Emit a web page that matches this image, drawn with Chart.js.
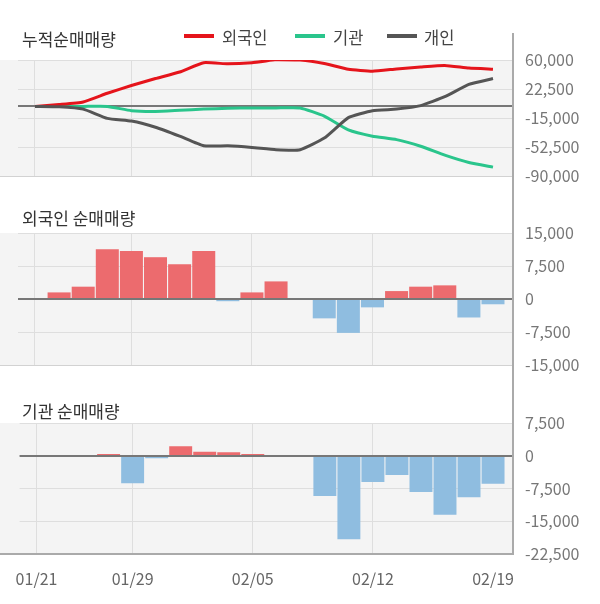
<!DOCTYPE html>
<html>
<head>
<meta charset="utf-8">
<script src="https://cdn.jsdelivr.net/npm/chart.js@4/dist/chart.umd.min.js"></script>
<style>
  html, body { margin: 0; padding: 0; background: #fff; }
  #wrap { position: relative; width: 600px; height: 604px; overflow: hidden;
          font-family: 'Noto Sans CJK KR', 'Noto Sans', sans-serif; }
  #wrap canvas { position: absolute; left: 0; top: 0; }
  .title { position: absolute; left: 22px; font-size: 17px; line-height: 20px; color: #333; white-space: nowrap; }
  .lg-line { position: absolute; height: 4px; top: 34px; width: 30px; }
  .lg-text { position: absolute; top: 27px; font-size: 16.5px; line-height: 20px; color: #444; white-space: nowrap; }
  #vaxis { position: absolute; left: 512px; top: 33px; width: 2px; height: 522px; background: #aaa; }
</style>
</head>
<body>
<div id="wrap">
  <canvas id="chart-cum" width="600" height="604"></canvas>
  <canvas id="chart-foreign" width="600" height="604"></canvas>
  <canvas id="chart-inst" width="600" height="604"></canvas>
  <div id="vaxis"></div>

  <div class="title" style="top:29px;">누적순매매량</div>
  <div class="lg-line" style="left:184px;background:#e5141b;"></div>
  <div class="lg-text" style="left:222px;">외국인</div>
  <div class="lg-line" style="left:295px;background:#2ac58c;"></div>
  <div class="lg-text" style="left:333px;">기관</div>
  <div class="lg-line" style="left:387px;background:#555;"></div>
  <div class="lg-text" style="left:424px;">개인</div>

  <div class="title" style="top:208px;">외국인 순매매량</div>
  <div class="title" style="top:401px;">기관 순매매량</div>
</div>

<script>
// ── Data ─────────────────────────────────────────────────────
const dates = ['01/21','01/22','01/23','01/28','01/29','01/30','01/31','02/03','02/04','02/05',
               '02/06','02/07','02/10','02/11','02/12','02/13','02/14','02/17','02/18','02/19'];
const gridIdx = [0, 4, 9, 14, 19];   // labelled dates

const foreignCum  = [0, 2500, 5800, 17000, 27000, 36000, 44500, 56500, 55000, 56500,
                     60500, 60000, 55500, 48000, 45500, 48500, 51000, 53000, 49500, 48000];
const instCum     = [0, 0, 0, 0, -5500, -6500, -5000, -3500, -2500, -2000,
                     -2000, -2000, -12500, -30500, -38500, -43000, -51500, -63000, -72500, -78500];
const personalCum = [0, -500, -3500, -15500, -19000, -27000, -38500, -51000, -51000, -53000,
                     -56000, -56000, -41000, -14500, -5500, -3500, 1000, 12500, 28500, 36000];

const foreignDaily = [0, 1500, 2800, 11300, 10900, 9500, 7900, 10900, -500, 1500,
                      4000, 0, -4400, -7700, -1900, 1800, 2800, 3100, -4200, -1200];
const instDaily    = [0, 0, 0, 400, -6300, -600, 2200, 900, 800, 400,
                      0, 0, -9200, -19100, -6000, -4400, -8300, -13500, -9500, -6400];

const cumTicks     = { min: -90000, max: 60000, step: 37500 };
const foreignTicks = { min: -15000, max: 15000, step: 7500 };
const instTicks    = { min: -22500, max: 7500,  step: 7500 };

// ── Style ────────────────────────────────────────────────────
const C = {
  red: '#e5141b', green: '#2ac58c', dark: '#555555',
  barPos: '#ec6b6e', barNeg: '#8fbde0',
  bg: '#f4f4f4', grid: '#dedede', zero: '#777', tick: '#777'
};
Chart.defaults.font.family = "'Noto Sans CJK KR', 'Noto Sans', sans-serif";
Chart.defaults.animation = false;

const X_MIN = -0.705, X_MAX = 19.83;

// grey panel + bottom rule + zero line
const panelPlugin = {
  id: 'panel',
  beforeDraw(chart, args, opts) {
    const { ctx, chartArea: a } = chart;
    ctx.save();
    ctx.fillStyle = C.bg;
    ctx.fillRect(0, a.top, a.right, a.bottom - a.top);
    ctx.restore();
  },
  beforeDatasetsDraw(chart, args, opts) {
    if (!opts.zeroOnTop) drawZero(chart);
  },
  afterDatasetsDraw(chart, args, opts) {
    if (opts.zeroOnTop) drawZero(chart);
    const { ctx, chartArea: a } = chart;
    ctx.save();
    ctx.strokeStyle = opts.bottomColor;
    ctx.lineWidth = opts.bottomWidth;
    const y = a.bottom + (opts.bottomWidth % 2 ? 0.5 : 0);
    ctx.beginPath(); ctx.moveTo(0, y); ctx.lineTo(a.right, y); ctx.stroke();
    ctx.restore();
  }
};
function drawZero(chart) {
  const { ctx, chartArea: a, scales } = chart;
  const y = Math.round(scales.y.getPixelForValue(0));
  ctx.save();
  ctx.strokeStyle = C.zero;
  ctx.lineWidth = 2;
  ctx.beginPath(); ctx.moveTo(a.left, y); ctx.lineTo(a.right, y); ctx.stroke();
  ctx.restore();
}

function xScale(showLabels) {
  return {
    type: 'linear', min: X_MIN, max: X_MAX, offset: false,
    afterBuildTicks: (axis) => { axis.ticks = gridIdx.map(v => ({ value: v })); },
    afterFit: (axis) => { axis.height = showLabels ? 50 : 0; },
    grid: {
      offset: false, drawTicks: false,
      color: (c) => (c.tick && c.tick.value === 19) ? 'rgba(0,0,0,0)' : C.grid
    },
    border: { display: false },
    ticks: {
      display: showLabels, padding: 15, color: '#666', autoSkip: false, maxRotation: 0,
      font: { size: 16 },
      callback: (v) => dates[v]
    }
  };
}
function yScale(t) {
  return {
    position: 'right', min: t.min, max: t.max,
    afterFit: (axis) => { axis.width = 87; },
    afterBuildTicks: (axis) => {
      const out = [];
      for (let v = t.min; v <= t.max; v += t.step) out.push({ value: v });
      axis.ticks = out;
    },
    grid: { drawTicks: false, color: C.grid },
    border: { display: false },
    ticks: {
      padding: 12, color: C.tick, font: { size: 16 },
      callback: (v) => v.toLocaleString('en-US')
    }
  };
}
const pts = (arr) => arr.map((v, i) => ({ x: i, y: v }));

// ── 1. Cumulative lines ──────────────────────────────────────
new Chart(document.getElementById('chart-cum'), {
  type: 'line',
  data: {
    datasets: [
      { label: '개인',   data: pts(personalCum), borderColor: C.dark },
      { label: '외국인', data: pts(foreignCum),  borderColor: C.red },
      { label: '기관',   data: pts(instCum),     borderColor: C.green }
    ].map(d => Object.assign(d, { borderWidth: 3, pointRadius: 0, tension: 0.15, fill: false }))
  },
  options: {
    responsive: false,
    layout: { padding: { top: 60, bottom: 428, left: 18, right: 0 } },
    plugins: {
      legend: { display: false }, tooltip: { enabled: false },
      panel: { zeroOnTop: false, bottomColor: '#d2d2d2', bottomWidth: 1 }
    },
    scales: { x: xScale(false), y: yScale(cumTicks) }
  },
  plugins: [panelPlugin]
});

// ── 2. Foreign daily bars ────────────────────────────────────
function barChart(id, values, ticks, pad, showLabels, bottom) {
  return new Chart(document.getElementById(id), {
    type: 'bar',
    data: {
      datasets: [{
        data: pts(values),
        backgroundColor: (c) => (c.raw && c.raw.y < 0) ? C.barNeg : C.barPos,
        borderWidth: 0, barPercentage: 0.955, categoryPercentage: 1
      }]
    },
    options: {
      responsive: false,
      layout: { padding: pad },
      plugins: {
        legend: { display: false }, tooltip: { enabled: false },
        panel: Object.assign({ zeroOnTop: true }, bottom)
      },
      scales: { x: xScale(showLabels), y: yScale(ticks) }
    },
    plugins: [panelPlugin]
  });
}

barChart('chart-foreign', foreignDaily, foreignTicks,
  { top: 233, bottom: 239, left: 18, right: 0 }, false,
  { bottomColor: '#d2d2d2', bottomWidth: 1 });

// ── 3. Institution daily bars ────────────────────────────────
barChart('chart-inst', instDaily, instTicks,
  { top: 423, bottom: 0, left: 18, right: 0 }, true,
  { bottomColor: '#aaa', bottomWidth: 2 });
</script>
</body>
</html>
